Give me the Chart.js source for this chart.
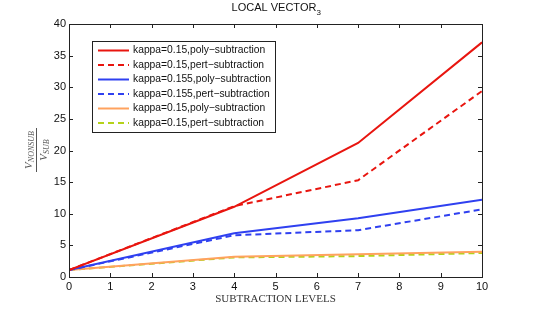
<!DOCTYPE html>
<html>
<head>
<meta charset="utf-8">
<script src="https://cdn.jsdelivr.net/npm/chart.js@4/dist/chart.umd.min.js"></script>
<style>
  body { margin: 0; background: #fff; }
</style>
</head>
<body>
<canvas id="chart" width="533" height="312"></canvas>
<script>
// subtraction levels
const levels = [0, 4, 7, 10];
const xTicks = [0, 1, 2, 3, 4, 5, 6, 7, 8, 9, 10];
const yTicks = [0, 5, 10, 15, 20, 25, 30, 35, 40];

const k150Poly = [1.1, 11.1, 21.2, 37.1];
const k150Pert = [1.1, 11.2, 15.3, 29.4];
const k155Poly = [1.1, 6.9, 9.3, 12.2];
const k155Pert = [1.1, 6.6, 7.4, 10.7];
const k150bPoly = [1.1, 3.2, 3.6, 4.0];
const k150bPert = [1.1, 3.1, 3.3, 3.8];

const labels = [
  'kappa=0.15,poly\u2212subtraction',
  'kappa=0.15,pert\u2212subtraction',
  'kappa=0.155,poly\u2212subtraction',
  'kappa=0.155,pert\u2212subtraction',
  'kappa=0.15,poly\u2212subtraction',
  'kappa=0.15,pert\u2212subtraction'
];

function pts(vals) {
  return vals.map((v, i) => ({ x: levels[i], y: v }));
}

function ds(label, vals, color, dashed) {
  return {
    label: label,
    data: pts(vals),
    borderColor: color,
    backgroundColor: color,
    borderWidth: 2,
    borderDash: dashed ? [6, 4] : [],
    pointRadius: 0,
    tension: 0,
    fill: false
  };
}

const sans = '"Liberation Sans", Arial, sans-serif';
const serif = '"Liberation Serif", "Times New Roman", serif';

// draws box, inside ticks, legend, title and y label (matlab look)
const decorations = {
  id: 'decorations',
  afterDatasetsDraw(chart) {
    const ctx = chart.ctx;
    const a = chart.chartArea;
    const xs = chart.scales.x, ys = chart.scales.y;
    ctx.save();
    ctx.strokeStyle = '#222';
    ctx.lineWidth = 1;
    ctx.setLineDash([]);
    ctx.strokeRect(Math.round(a.left) + 0.5, Math.round(a.top) + 0.5,
      Math.round(a.right - a.left), Math.round(a.bottom - a.top));
    ctx.beginPath();
    xTicks.forEach(v => {
      const px = Math.round(xs.getPixelForValue(v)) + 0.5;
      ctx.moveTo(px, a.bottom); ctx.lineTo(px, a.bottom - 4);
      ctx.moveTo(px, a.top); ctx.lineTo(px, a.top + 4);
    });
    yTicks.forEach(v => {
      const py = Math.round(ys.getPixelForValue(v)) + 0.5;
      ctx.moveTo(a.left, py); ctx.lineTo(a.left + 4, py);
      ctx.moveTo(a.right, py); ctx.lineTo(a.right - 4, py);
    });
    ctx.stroke();

    // legend
    const lx = 92, ly = 41, lw = 183, lh = 91;
    ctx.fillStyle = '#fff';
    ctx.fillRect(lx, ly, lw, lh);
    ctx.strokeStyle = '#222';
    ctx.strokeRect(lx + 0.5, ly + 0.5, lw, lh);
    ctx.font = '10.3px ' + sans;
    ctx.textBaseline = 'middle';
    ctx.textAlign = 'left';
    chart.data.datasets.forEach((d, i) => {
      const y = 50.5 + i * 14.5;
      ctx.strokeStyle = d.borderColor;
      ctx.lineWidth = 2;
      ctx.setLineDash(d.borderDash);
      ctx.beginPath();
      ctx.moveTo(98, y); ctx.lineTo(129, y);
      ctx.stroke();
      ctx.fillStyle = '#111';
      ctx.fillText(d.label, 133, y);
    });
    ctx.setLineDash([]);

    // title
    ctx.fillStyle = '#111';
    ctx.font = '11px ' + sans;
    ctx.textAlign = 'left';
    const t = 'LOCAL VECTOR';
    const tw = ctx.measureText(t).width;
    const tx = 274 - tw / 2;
    ctx.fillText(t, tx, 8);
    ctx.font = '8px ' + sans;
    ctx.fillText('3', tx + tw, 13);

    // y label as fraction
    ctx.translate(36, 150);
    ctx.rotate(-Math.PI / 2);
    ctx.fillStyle = '#555';
    ctx.strokeStyle = '#555';
    ctx.lineWidth = 1;
    ctx.beginPath();
    ctx.moveTo(-22, 0.5); ctx.lineTo(22, 0.5);
    ctx.stroke();
    ctx.textAlign = 'left';
    ctx.font = 'italic 11px ' + serif;
    const nw = ctx.measureText('V').width;
    ctx.font = 'italic 8px ' + serif;
    const nsw = ctx.measureText('NONSUB').width;
    let sx = -(nw + nsw) / 2;
    ctx.font = 'italic 11px ' + serif;
    ctx.fillText('V', sx, -7);
    ctx.font = 'italic 8px ' + serif;
    ctx.fillText('NONSUB', sx + nw, -4);
    const dsw = ctx.measureText('SUB').width;
    sx = -(nw + dsw) / 2;
    ctx.font = 'italic 11px ' + serif;
    ctx.fillText('V', sx, 8);
    ctx.font = 'italic 8px ' + serif;
    ctx.fillText('SUB', sx + nw, 11);
    ctx.restore();
  }
};

new Chart(document.getElementById('chart'), {
  type: 'line',
  data: {
    datasets: [
      ds(labels[0], k150Poly, '#e8150f', false),
      ds(labels[1], k150Pert, '#e8150f', true),
      ds(labels[2], k155Poly, '#2f40f0', false),
      ds(labels[3], k155Pert, '#2f40f0', true),
      ds(labels[4], k150bPoly, '#ffa25e', false),
      ds(labels[5], k150bPert, '#b5d21a', true)
    ]
  },
  options: {
    responsive: false,
    animation: false,
    layout: { padding: { top: 24, right: 51, left: 0, bottom: 0 } },
    plugins: {
      legend: { display: false },
      tooltip: { enabled: false }
    },
    scales: {
      x: {
        type: 'linear',
        min: 0, max: 10,
        afterFit: s => { s.height = 35; },
        afterBuildTicks: s => { s.ticks = xTicks.map(v => ({ value: v })); },
        grid: { display: false, drawTicks: false },
        border: { display: false },
        ticks: { color: '#111', font: { family: sans, size: 11 }, padding: 3, maxRotation: 0, autoSkip: false },
        title: {
          display: true,
          text: 'SUBTRACTION LEVELS',
          color: '#333',
          font: { family: serif, size: 11 },
          padding: { top: 0, bottom: 6 }
        }
      },
      y: {
        min: 0, max: 40,
        afterFit: s => { s.width = 69; },
        afterBuildTicks: s => { s.ticks = yTicks.map(v => ({ value: v })); },
        grid: { display: false, drawTicks: false },
        border: { display: false },
        ticks: { color: '#111', font: { family: sans, size: 11 }, padding: 3, autoSkip: false }
      }
    }
  },
  plugins: [decorations]
});
</script>
</body>
</html>
